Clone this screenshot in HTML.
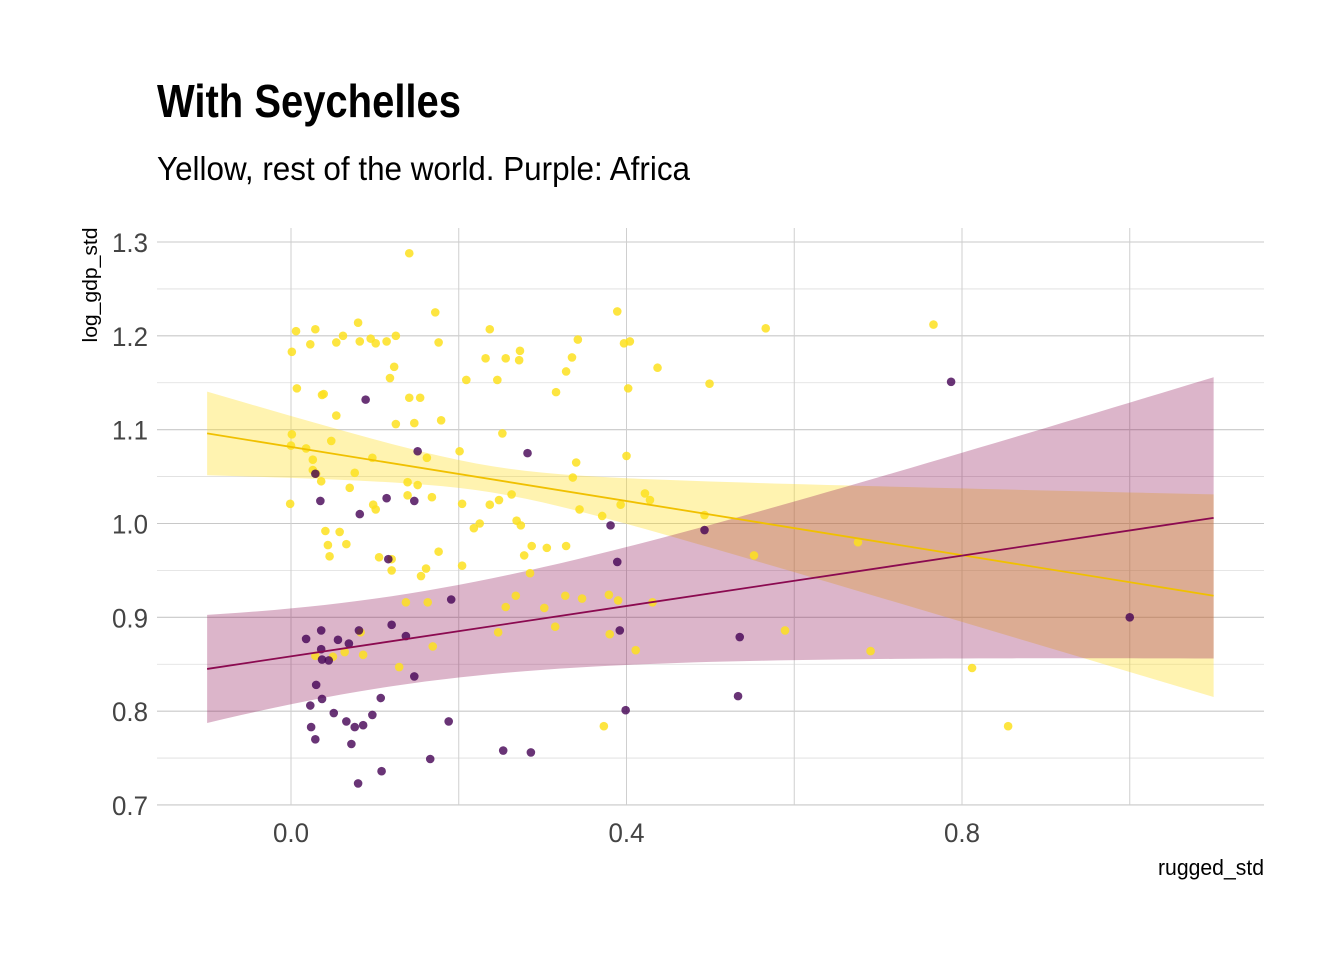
<!DOCTYPE html>
<html><head><meta charset="utf-8"><style>
body{margin:0;background:#fff;}
svg{display:block;}
text{font-family:"Liberation Sans Narrow","Liberation Sans",sans-serif;}
</style></head><body>
<svg id="chart" width="1344" height="960" viewBox="0 0 1344 960" xmlns="http://www.w3.org/2000/svg">
<text x="157" y="117" font-size="46" font-weight="bold" fill="#000" textLength="304" lengthAdjust="spacingAndGlyphs">With Seychelles</text>
<text x="157" y="180" font-size="33" fill="#000" textLength="533" lengthAdjust="spacingAndGlyphs">Yellow, rest of the world. Purple: Africa</text>
<text transform="translate(97,285) rotate(-90)" text-anchor="middle" font-size="20" fill="#000" textLength="115" lengthAdjust="spacingAndGlyphs">log_gdp_std</text>
<text x="1264" y="875" text-anchor="end" font-size="22" fill="#000" textLength="106" lengthAdjust="spacingAndGlyphs">rugged_std</text>
<g id="grid"></g>
<g id="bands"></g>
<g id="points"></g>
<g id="lines"></g>
<g id="ticks"></g>
</svg>
<script>
const yellowX=[.001,0,-.001,.001,.006,.007,.029,.023,.018,.026,.026,.030,.036,.037,.039,.048,.054,.054,.062,.080,.082,.095,.101,.097,.114,.125,.123,.118,.141,.172,.176,.141,.154,.147,.179,.125,.162,.139,.151,.168,.070,.076,.041,.058,.066,.046,.044,.098,.101,.105,.120,.120,.139,.161,.155,.163,.137,.176,.201,.204,.209,.204,.218,.225,.237,.248,.252,.246,.232,.237,.256,.272,.273,.263,.269,.274,.278,.285,.287,.305,.316,.328,.335,.342,.328,.340,.336,.344,.371,.389,.397,.404,.402,.400,.393,.422,.428,.437,.499,.493,.566,.766,.327,.379,.373,.812,.855,.302,.315,.347,.390,.380,.411,.431,.552,.589,.676,.691,.247,.256,.268,.064,.083,.086,.129,.169,.029,.050];
const yellowY=[1.095,1.083,1.021,1.183,1.205,1.144,1.207,1.191,1.080,1.057,1.068,1.053,1.045,1.137,1.138,1.088,1.115,1.193,1.200,1.214,1.194,1.197,1.192,1.070,1.194,1.200,1.167,1.155,1.288,1.225,1.193,1.134,1.134,1.107,1.110,1.106,1.070,1.044,1.041,1.028,1.038,1.054,.992,.991,.978,.965,.977,1.020,1.015,.964,.950,.962,1.030,.952,.944,.916,.916,.970,1.077,1.021,1.153,.955,.995,1.000,1.020,1.025,1.096,1.153,1.176,1.207,1.176,1.174,1.184,1.031,1.003,.998,.966,.947,.976,.974,1.140,1.162,1.177,1.196,.976,1.065,1.049,1.015,1.008,1.226,1.192,1.194,1.144,1.072,1.020,1.032,1.025,1.166,1.149,1.009,1.208,1.212,.923,.924,.784,.846,.784,.910,.890,.920,.918,.882,.865,.916,.966,.886,.980,.864,.884,.911,.923,.863,.884,.860,.847,.869,.859,.858];
const purpleX=[.787,1.000,.089,.151,.029,.282,.147,.082,.114,.035,.381,.389,.191,.116,.018,.036,.036,.056,.069,.081,.120,.137,.037,.045,.030,.147,.023,.037,.051,.066,.086,.076,.097,.107,.188,.024,.029,.072,.080,.108,.166,.253,.286,.399,.392,.535,.533,.493];
const purpleY=[1.151,.900,1.132,1.077,1.053,1.075,1.024,1.010,1.027,1.024,.998,.959,.919,.962,.877,.886,.866,.876,.872,.886,.892,.880,.855,.854,.828,.837,.806,.813,.798,.789,.785,.783,.796,.814,.789,.783,.770,.765,.723,.736,.749,.758,.756,.801,.886,.879,.816,.993];
const xTicks=[0.0,0.4,0.8];
const xTickLabels=["0.0","0.4","0.8"];
const yTicks=[0.7,0.8,0.9,1.0,1.1,1.2,1.3];
const yTickLabels=["0.7","0.8","0.9","1.0","1.1","1.2","1.3"];
const yellowFit=[-0.1,1.096,1.1,0.923];
const yellowBand=[0.24,0.014,0.0155];
const purpleFit=[-0.1,0.845,1.1,1.006];
const purpleBand=[0.12,0.048,0.021];

const X=v=>291+(v-0)*838.75;
const Y=v=>242+(1.3-v)*938.3;
const NS="http://www.w3.org/2000/svg";
function mk(tag,parent,attrs){const e=document.createElementNS(NS,tag);for(const k in attrs)e.setAttribute(k,attrs[k]);parent.appendChild(e);return e;}
const grid=document.getElementById('grid');
for(let v=0.7;v<=1.301;v+=0.05){const major=Math.abs(v*10-Math.round(v*10))<1e-6;
 const l=mk('line',grid,{x1:157,x2:1264,y1:Y(v),y2:Y(v),stroke:major?'#c8c8c8':'#dedede','stroke-width':major?1.1:0.8});
 
 }
for(let v=0;v<=1.001;v+=0.2){
 const l=mk('line',grid,{x1:X(v),x2:X(v),y1:228,y2:805,stroke:'#cfcfcf','stroke-width':1});
 
 }
const ticks=document.getElementById('ticks');
xTicks.forEach((v,i)=>{const t=mk('text',ticks,{x:X(v),y:842,'text-anchor':'middle','font-size':27,fill:'#444',textLength:36,lengthAdjust:'spacingAndGlyphs'});t.textContent=xTickLabels[i];
 
 });
yTicks.forEach((v,i)=>{const t=mk('text',ticks,{x:148,y:Y(v)+10,'text-anchor':'end','font-size':27,fill:'#444',textLength:36,lengthAdjust:'spacingAndGlyphs'});t.textContent=yTickLabels[i];
 
 });
function band(fit,bp,fill,name){const up=[],lo=[];const n=60;
 for(let i=0;i<=n;i++){const x=fit[0]+(fit[2]-fit[0])*i/n;const y=fit[1]+(fit[3]-fit[1])*(x-fit[0])/(fit[2]-fit[0]);
  const hw=Math.sqrt(bp[1]*bp[1]+bp[2]*(x-bp[0])*(x-bp[0]));up.push(X(x)+','+Y(y+hw));lo.unshift(X(x)+','+Y(y-hw));}
 const p=mk('polygon',document.getElementById('bands'),{points:up.concat(lo).join(' '),fill:fill});
 
 }
band(yellowFit,yellowBand,'rgba(255,221,30,0.35)','yellow-band');
band(purpleFit,purpleBand,'rgba(139,10,80,0.3)','purple-band');
const pts=document.getElementById('points');
yellowX.forEach((x,i)=>{const c=mk('circle',pts,{cx:X(x),cy:Y(yellowY[i]),r:4.3,fill:'rgba(253,225,30,0.85)'});
 
 });
purpleX.forEach((x,i)=>{const c=mk('circle',pts,{cx:X(x),cy:Y(purpleY[i]),r:4.3,fill:'rgba(68,1,84,0.8)'});
 
 });
const lines=document.getElementById('lines');
const l1=mk('line',lines,{x1:X(yellowFit[0]),y1:Y(yellowFit[1]),x2:X(yellowFit[2]),y2:Y(yellowFit[3]),stroke:'#f0c000','stroke-width':1.8});


const l2=mk('line',lines,{x1:X(purpleFit[0]),y1:Y(purpleFit[1]),x2:X(purpleFit[2]),y2:Y(purpleFit[3]),stroke:'#8b0a50','stroke-width':1.8});


</script>
</body></html>
